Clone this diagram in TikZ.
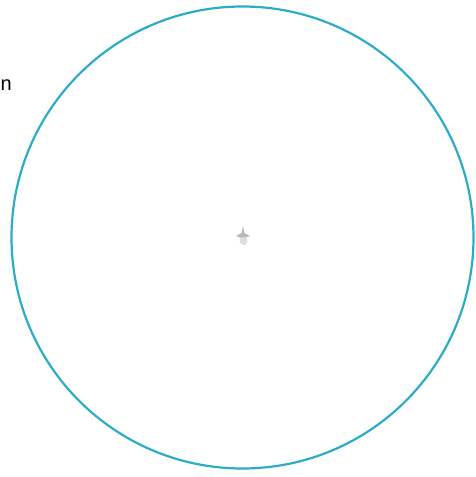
\documentclass[tikz,border=0pt]{standalone}
\usepackage{fontspec}
\setmainfont{Liberation Sans}
\definecolor{ringc}{RGB}{45,172,200}
\begin{document}
\begin{tikzpicture}[x=1pt,y=-1pt,
  ring/.style={draw=ringc,line width=2.2pt}]
\useasboundingbox (0,0) rectangle (476,477);
\node[circle,ring,minimum size=462pt,inner sep=0pt] (c) at (242.5,237.5) {};
\node[anchor=west,inner sep=0pt,font=\fontsize{20}{20}\selectfont] (lbl) at (0.5,85) {n};
\fill[gray!55] (243,226) -- (244.5,233) -- (250,236) -- (244.5,238) -- (245,246) -- (241.5,238) -- (236,236) -- (241.5,233) -- cycle;
\fill[gray!25] (243.5,241) circle (4);
\end{tikzpicture}
\end{document}
